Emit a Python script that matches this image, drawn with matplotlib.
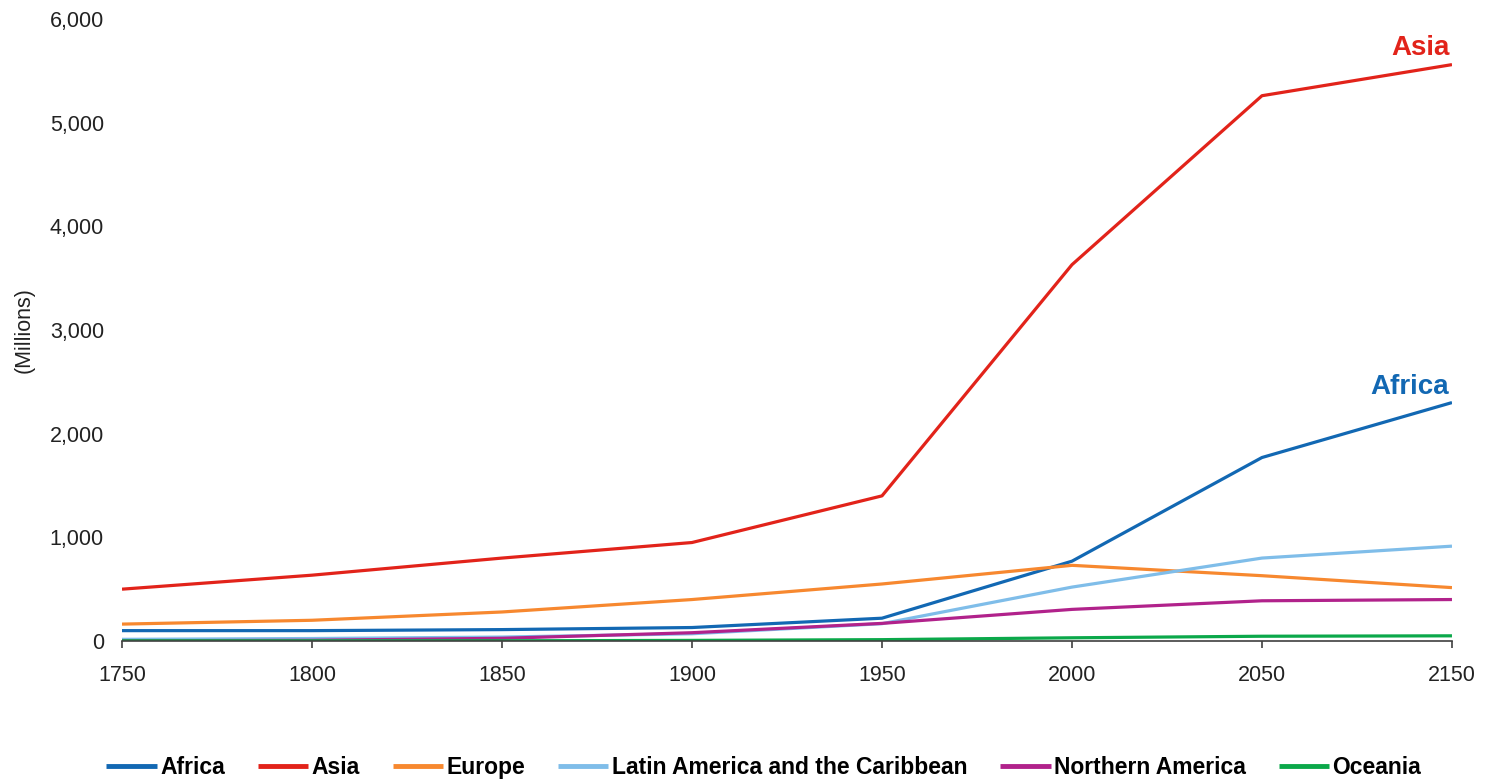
import matplotlib
matplotlib.use("Agg")
import matplotlib.pyplot as plt
from matplotlib.ticker import FuncFormatter

years = ["1750", "1800", "1850", "1900", "1950", "2000", "2050", "2150"]
africa = [100, 100, 110, 130, 220, 770, 1770, 2300]
asia = [500, 635, 800, 950, 1400, 3630, 5260, 5560]
europe = [163, 200, 280, 400, 550, 730, 630, 515]
latin = [16, 24, 38, 70, 167, 520, 800, 915]
northern = [2, 7, 26, 80, 170, 305, 388, 400]
oceania = [2, 2, 2, 6, 13, 31, 46, 50]

series_names = ["Africa", "Asia", "Europe", "Latin America and the Caribbean",
                "Northern America", "Oceania"]
series_values = [africa, asia, europe, latin, northern, oceania]
colors = ["#1268B3", "#E2231A", "#F7882F", "#7FBDE9", "#B1228B", "#0BA84A"]

yticks = [0, 1000, 2000, 3000, 4000, 5000, 6000]

plt.rcParams['font.family'] = ['Liberation Sans', 'DejaVu Sans']

fig = plt.figure(figsize=(14.86, 7.82), dpi=100)
ax = fig.add_axes([0.0821, 0.1803, 0.8950, 0.7954])

pos = list(range(len(years)))
lines = []
for name, vals, c in zip(series_names, series_values, colors):
    ln, = ax.plot(pos, vals, color=c, lw=2.3, label=name, solid_capstyle='butt')
    lines.append(ln)

ax.set_xlim(0, len(years) - 1)
ax.set_ylim(0, 6000)
ax.set_xticks(pos)
ax.set_xticklabels(years)
ax.set_yticks(yticks)
ax.yaxis.set_major_formatter(FuncFormatter(lambda v, p: f"{int(v):,}"))

for s in ["top", "right", "left"]:
    ax.spines[s].set_visible(False)
ax.spines["bottom"].set_color("#404040")
ax.spines["bottom"].set_linewidth(1.2)

ax.tick_params(axis='x', direction='out', length=5, width=1.2, color='#404040',
               labelsize=15.5, labelcolor='#222222', pad=12)
ax.tick_params(axis='y', length=0, labelsize=15.5, labelcolor='#222222', pad=13)

ax.set_ylabel("(Millions)", fontsize=15.5, color='#222222')
ax.yaxis.set_label_coords(-0.066, 0.5)

ax.annotate("Asia", xy=(pos[-1], asia[-1]), xytext=(-2, 7), textcoords='offset points',
            ha='right', va='baseline', fontsize=20, fontweight='bold', color=colors[1])
ax.annotate("Africa", xy=(pos[-1], africa[-1]), xytext=(-2, 6), textcoords='offset points',
            ha='right', va='baseline', fontsize=20, fontweight='bold', color=colors[0])

leg = fig.legend(handles=lines, labels=series_names, loc='center', ncol=6,
                 bbox_to_anchor=(0.514, 0.018), frameon=False,
                 prop={'weight': 'bold', 'size': 16.5},
                 handlelength=2.2, handletextpad=0.15, columnspacing=1.43)
for h in leg.legend_handles:
    h.set_linewidth(3.5)

fig.savefig("out.png", dpi=100)
